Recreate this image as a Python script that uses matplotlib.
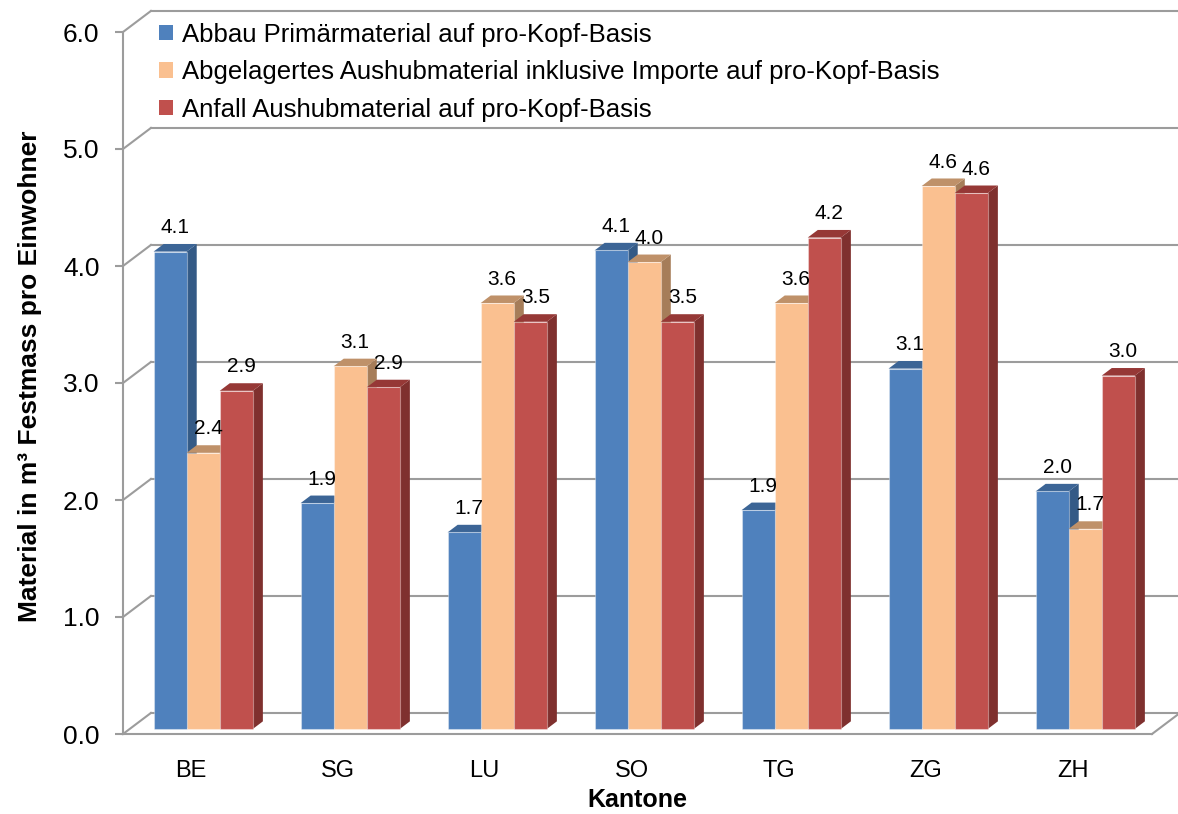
"""3D-style grouped bar chart: material per capita by canton."""

import matplotlib
matplotlib.use('agg')
from matplotlib import pyplot as plt
from matplotlib.patches import Polygon, Patch
import numpy as np

plt.rcParams['font.family'] = ['Liberation Sans', 'DejaVu Sans']

cantons = ['BE', 'SG', 'LU', 'SO', 'TG', 'ZG', 'ZH']
series_names = ['Abbau Primärmaterial auf pro-Kopf-Basis',
                'Abgelagertes Aushubmaterial inklusive Importe auf pro-Kopf-Basis',
                'Anfall Aushubmaterial auf pro-Kopf-Basis']
abbau = [4.08, 1.93, 1.68, 4.09, 1.87, 3.08, 2.03]
abgelagert = [2.36, 3.10, 3.64, 3.99, 3.64, 4.64, 1.71]
anfall = [2.89, 2.92, 3.48, 3.48, 4.20, 4.58, 3.02]
y_ticks = [0.0, 1.0, 2.0, 3.0, 4.0, 5.0, 6.0]

# front, top, side colours per series
colors = [('#4F81BD', '#3C6596', '#345A86'),
          ('#FAC090', '#BF9169', '#A67D59'),
          ('#C0504D', '#963836', '#7F302E')]

# depth of the 3D box in data units, and the depth slice the bars occupy
DX, DY = 0.19, 0.18
F0, F1 = 0.24, 0.60
BAR_W = 0.225
GRID = '#9C9C9C'

fig = plt.figure(figsize=(11.78, 8.14), dpi=100)
ax = fig.add_axes([123 / 1178, 80 / 814, 1029 / 1178, 702 / 814])
ax.set_xlim(-0.5, 6.5)
ax.set_ylim(0, 6)

# back wall gridlines, left wall diagonals, floor
for g in y_ticks:
    ax.plot([-0.5 + DX, 6.5 + DX], [g + DY, g + DY], color=GRID, lw=1.5,
            clip_on=False, zorder=1)
    ax.plot([-0.5, -0.5 + DX], [g, g + DY], color=GRID, lw=1.5,
            clip_on=False, zorder=1)
ax.plot([6.5, 6.5 + DX], [0, DY], color=GRID, lw=1.5, clip_on=False, zorder=1)

values = [abbau, abgelagert, anfall]
x = np.arange(len(cantons))
for i in range(len(cantons)):
    for s in range(3):
        v = values[s][i]
        left = x[i] + (s - 1.5) * BAR_W
        right = left + BAR_W
        x0, y0 = F0 * DX, F0 * DY
        x1, y1 = F1 * DX, F1 * DY
        front, top, side = colors[s]
        side_poly = Polygon([(right + x0, y0), (right + x1, y1),
                             (right + x1, v + y1), (right + x0, v + y0)],
                            closed=True, fc=side, ec='none', zorder=3,
                            clip_on=False)
        top_poly = Polygon([(left + x0, v + y0), (left + x1, v + y1),
                            (right + x1, v + y1), (right + x0, v + y0)],
                           closed=True, fc=top, ec='none', zorder=3,
                           clip_on=False)
        ax.add_patch(side_poly)
        ax.add_patch(top_poly)
        ax.bar(left + x0, v, width=BAR_W, bottom=y0, align='edge',
               color=front, edgecolor=(1, 1, 1, 0.35), linewidth=0.8,
               zorder=3, clip_on=False)
        ax.annotate(f'{v:.1f}', xy=(left + BAR_W / 2 + (x0 + x1) / 2, v + y1),
                    xytext=(0, 5), textcoords='offset points',
                    ha='center', va='bottom', fontsize=15, zorder=5)

# axes
for side in ['top', 'right']:
    ax.spines[side].set_visible(False)
for side in ['left', 'bottom']:
    ax.spines[side].set_color(GRID)
    ax.spines[side].set_linewidth(1.5)
ax.set_yticks(y_ticks)
ax.set_yticklabels([f'{t:.1f}' for t in y_ticks], fontsize=19)
ax.tick_params(axis='y', length=6, width=1.5, color=GRID, pad=11)
ax.set_xticks(x - 0.04)
ax.set_xticklabels(cantons, fontsize=17)
ax.tick_params(axis='x', length=0, pad=19)
ax.set_xlabel('Kantone', fontsize=18, fontweight='bold', labelpad=4)
ax.set_ylabel('Material in m³ Festmass pro Einwohner', fontsize=19,
              fontweight='bold')
ax.yaxis.set_label_coords(-0.079, 0.51)

handles = [Patch(facecolor=c[0], edgecolor='none') for c in colors]
ax.legend(handles, series_names, loc='upper left',
          bbox_to_anchor=(0.02, 1.035), frameon=False, fontsize=18.5,
          handlelength=0.55, handleheight=0.55, handletextpad=0.35,
          labelspacing=0.52, borderaxespad=0.2)

fig.savefig('out.png', dpi=100)
